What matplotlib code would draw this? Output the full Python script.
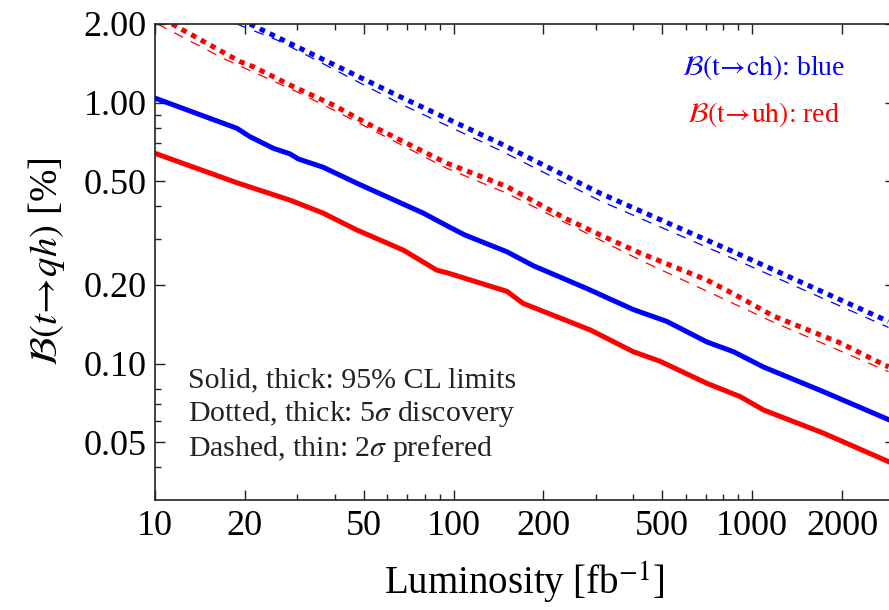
import matplotlib

matplotlib.use("Agg")
import matplotlib.pyplot as plt
from matplotlib.ticker import FixedLocator, NullFormatter

plt.rcParams["font.family"] = "serif"
plt.rcParams["font.serif"] = ["Liberation Serif", "DejaVu Serif"]
plt.rcParams["mathtext.fontset"] = "stix"

# t -> ch, 95% CL limits (solid, thick)
lumi_ch_95 = [10, 18.8, 20.8, 24.9, 28.3, 30.2, 36.6, 47.4, 61.3, 79.2, 96.1, 109,
              151, 185, 279, 400, 518, 705, 866, 1091, 1734, 2862]
br_ch_95 = [1.04, 0.797, 0.740, 0.668, 0.636, 0.608, 0.565, 0.491, 0.430, 0.377, 0.335, 0.311,
            0.268, 0.237, 0.194, 0.161, 0.145, 0.121, 0.111, 0.097, 0.078, 0.061]

# t -> uh, 95% CL limits (solid, thick)
lumi_uh_95 = [10, 18.8, 28.3, 36.6, 47.4, 67.9, 87.8, 96.1, 151, 171, 287, 400,
              492, 705, 912, 1091, 1734, 2862]
br_uh_95 = [0.639, 0.493, 0.423, 0.377, 0.325, 0.272, 0.228, 0.222, 0.189, 0.170, 0.1345, 0.111,
            0.102, 0.084, 0.0747, 0.0664, 0.0541, 0.0421]

# 5 sigma discovery (dotted, thick)
lumi_ch_5s = [20.8, 30.6, 66.2, 143, 310, 866, 2862]
br_ch_5s = [2.0, 1.615, 1.053, 0.698, 0.449, 0.268, 0.145]
lumi_uh_5s = [11.4, 19.3, 21.3, 28.3, 39.5, 51.2, 69.7, 94.9, 151, 239, 310, 422,
              705, 866, 1179, 1971, 2862]
br_uh_5s = [2.0, 1.434, 1.373, 1.168, 0.979, 0.833, 0.698, 0.586, 0.476, 0.358, 0.311, 0.265,
            0.209, 0.185, 0.152, 0.120, 0.097]

# 2 sigma preferred (dashed, thin)
lumi_ch_2s = [18.8, 25.6, 29.8, 66.2, 143, 310, 866, 2862]
br_ch_2s = [2.0, 1.737, 1.590, 0.990, 0.656, 0.420, 0.252, 0.1375]
lumi_uh_2s = [10.2, 16.9, 29.8, 39.6, 94.9, 151, 422, 1179, 2862]
br_uh_2s = [2.0, 1.478, 1.101, 0.937, 0.560, 0.449, 0.249, 0.144, 0.0931]

x_major = [10, 20, 50, 100, 200, 500, 1000, 2000]
x_minor = [30, 40, 60, 70, 80, 90, 300, 400, 600, 700, 800, 900]
y_major = [0.05, 0.10, 0.20, 0.50, 1.00, 2.00]
y_minor = [0.04, 0.06, 0.07, 0.08, 0.3, 0.4, 0.7, 0.8, 0.9]

BLUE = "#0000ff"
RED = "#ff0000"

fig = plt.figure(figsize=(8.89, 6.10), dpi=100)
ax = fig.add_axes([155 / 889, 110 / 610, 739.6 / 889, 476 / 610])

thick = 3.6
thin = 0.9
ax.plot(lumi_ch_95, br_ch_95, color=BLUE, lw=thick, solid_joinstyle="round")
ax.plot(lumi_uh_95, br_uh_95, color=RED, lw=thick, solid_joinstyle="round")
ax.plot(lumi_ch_5s, br_ch_5s, color=BLUE, lw=thick, dashes=(1.1, 1.1), dash_capstyle="butt")
ax.plot(lumi_uh_5s, br_uh_5s, color=RED, lw=thick, dashes=(1.1, 1.1), dash_capstyle="butt")
ax.plot(lumi_ch_2s, br_ch_2s, color=BLUE, lw=thin, dashes=(8, 7))
ax.plot(lumi_uh_2s, br_uh_2s, color=RED, lw=thin, dashes=(8, 7))

ax.set_xscale("log")
ax.set_yscale("log")
ax.set_xlim(10, 3000)
ax.set_ylim(0.03, 2.0)

ax.xaxis.set_major_locator(FixedLocator(x_major))
ax.xaxis.set_minor_locator(FixedLocator(x_minor))
ax.xaxis.set_minor_formatter(NullFormatter())
ax.set_xticklabels([str(v) for v in x_major])
ax.yaxis.set_major_locator(FixedLocator(y_major))
ax.yaxis.set_minor_locator(FixedLocator(y_minor))
ax.yaxis.set_minor_formatter(NullFormatter())
ax.set_yticklabels([f"{v:.2f}" for v in y_major])

ax.tick_params(which="both", direction="in", top=True, right=True, width=1.0, color="#222222")
ax.tick_params(which="major", length=7)
ax.tick_params(which="minor", length=4)
ax.tick_params(axis="x", labelsize=26, pad=7)
ax.tick_params(axis="y", labelsize=26, pad=6)
for sp in ax.spines.values():
    sp.set_linewidth(1.2)
    sp.set_color("#222222")

ax.set_xlabel(r"Luminosity [fb$^{-1}$]", fontsize=28, labelpad=12)
ax.set_ylabel(r"$\mathcal{B}(t\!\rightarrow\!qh)$ [%]", fontsize=28, labelpad=12)

ax.text(0.823, 0.908, r"$\mathcal{B}(\mathrm{t}\!\rightarrow\!\mathrm{ch})$: blue", color=BLUE,
        fontsize=20, ha="center", va="center", transform=ax.transAxes)
ax.text(0.823, 0.809, r"$\mathcal{B}(\mathrm{t}\!\rightarrow\!\mathrm{uh})$: red", color=RED,
        fontsize=20, ha="center", va="center", transform=ax.transAxes)

notes = [
    "Solid, thick: 95% CL limits",
    r"Dotted, thick: 5$\sigma$ discovery",
    r"Dashed, thin: 2$\sigma$ prefered",
]
for i, line in enumerate(notes):
    ax.text(0.045, 0.252 - i * 0.072, line, fontsize=21.5, color="#222222",
            ha="left", va="center", transform=ax.transAxes)

fig.savefig("out.png", dpi=100)
